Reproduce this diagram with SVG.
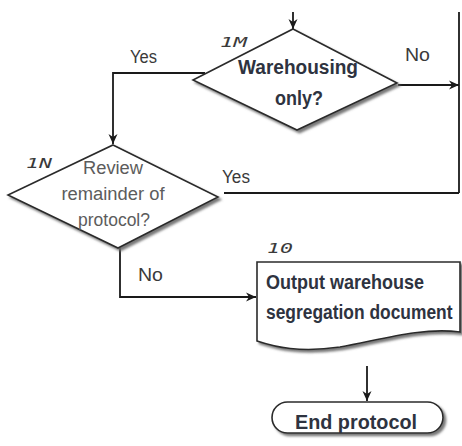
<svg xmlns="http://www.w3.org/2000/svg" width="462" height="446" viewBox="0 0 462 446">
  <defs>
    <marker id="arrow" viewBox="0 0 10 10" refX="10" refY="5" markerWidth="10" markerHeight="10" markerUnits="userSpaceOnUse" orient="auto">
      <path d="M0,0.5 L10,5 L0,9.5 L3,5 Z" fill="#1a1a1a"/>
    </marker>
    <filter id="shadow" x="-10%" y="-10%" width="130%" height="130%">
      <feDropShadow dx="2.5" dy="2.5" stdDeviation="1" flood-color="#6a6a6a" flood-opacity="0.9"/>
    </filter>
    <style>
      .shape { fill: #ffffff; stroke: #2a2a2a; stroke-width: 1.6; filter: url(#shadow); }
      .wire { fill: none; stroke: #1a1a1a; stroke-width: 1.8; }
      .arr { marker-end: url(#arrow); }
      .bold { font-family: "Liberation Sans Narrow", "Liberation Sans", Arial, sans-serif; font-weight: bold; fill: #2e3340; }
      .plain { font-family: "Liberation Sans Narrow", "Liberation Sans", Arial, sans-serif; fill: #3a3a3a; }
      .soft { font-family: "Liberation Sans Narrow", "Liberation Sans", Arial, sans-serif; fill: #5c5c5c; }
      .tag { font-family: "DejaVu Sans Mono", monospace; font-style: italic; font-size: 14px; fill: #3a3a3a; }
    </style>
  </defs>

  <!-- connectors -->
  <g id="connectors">
    <path class="wire arr" d="M293,12 V29"/>
    <path class="wire arr" d="M205,73 H113 V144"/>
    <path class="wire arr" d="M398,85 H459"/>
    <path class="wire" d="M459,12 V193"/>
    <path class="wire" d="M224,193 H459"/>
    <path class="wire arr" d="M120,248 V297 H256"/>
    <path class="wire arr" d="M367,366 V401"/>
  </g>

  <!-- edge labels -->
  <g id="labels">
    <text class="plain" x="143.5" y="63" font-size="18" text-anchor="middle" textLength="27" lengthAdjust="spacingAndGlyphs">Yes</text>
    <text class="plain" x="417.5" y="61" font-size="18" text-anchor="middle" textLength="25" lengthAdjust="spacingAndGlyphs">No</text>
    <text class="plain" x="236" y="183" font-size="18" text-anchor="middle" textLength="28" lengthAdjust="spacingAndGlyphs">Yes</text>
    <text class="plain" x="150.5" y="281" font-size="18" text-anchor="middle" textLength="25" lengthAdjust="spacingAndGlyphs">No</text>
  </g>

  <!-- 1M decision -->
  <g id="node-1M">
    <polygon class="shape" points="293,29 397,83 297,130 193,80"/>
    <text class="tag" x="220" y="47" textLength="27" lengthAdjust="spacingAndGlyphs">1M</text>
    <text class="bold" x="298" y="74" font-size="20" text-anchor="middle" textLength="120" lengthAdjust="spacingAndGlyphs">Warehousing</text>
    <text class="bold" x="299" y="105" font-size="20" text-anchor="middle" textLength="48" lengthAdjust="spacingAndGlyphs">only?</text>
  </g>

  <!-- 1N decision -->
  <g id="node-1N">
    <polygon class="shape" points="113,145 218,197 118,248 8,195"/>
    <text class="tag" x="26" y="168" textLength="26" lengthAdjust="spacingAndGlyphs">1N</text>
    <text class="soft" x="113" y="174" font-size="18" text-anchor="middle" textLength="60" lengthAdjust="spacingAndGlyphs">Review</text>
    <text class="soft" x="113" y="200" font-size="18" text-anchor="middle" textLength="103" lengthAdjust="spacingAndGlyphs">remainder of</text>
    <text class="soft" x="114" y="226" font-size="18" text-anchor="middle" textLength="72" lengthAdjust="spacingAndGlyphs">protocol?</text>
  </g>

  <!-- 10 output document -->
  <g id="node-10">
    <path class="shape" d="M257,262 H460 V332 C420,327 380,340 340,347 C300,353 275,347 257,341 Z"/>
    <text class="tag" x="267" y="253" textLength="26" lengthAdjust="spacingAndGlyphs">10</text>
    <text class="bold" transform="translate(266,289) scale(0.9,1)" font-size="20">Output warehouse</text>
    <text class="bold" transform="translate(266,319) scale(0.87,1)" font-size="20">segregation document</text>
  </g>

  <!-- end terminator -->
  <g id="node-end">
    <rect class="shape" x="272" y="402" width="171" height="31" rx="15.5" ry="15.5"/>
    <text class="bold" x="356" y="429" font-size="21" text-anchor="middle" textLength="122" lengthAdjust="spacingAndGlyphs">End protocol</text>
  </g>
</svg>
